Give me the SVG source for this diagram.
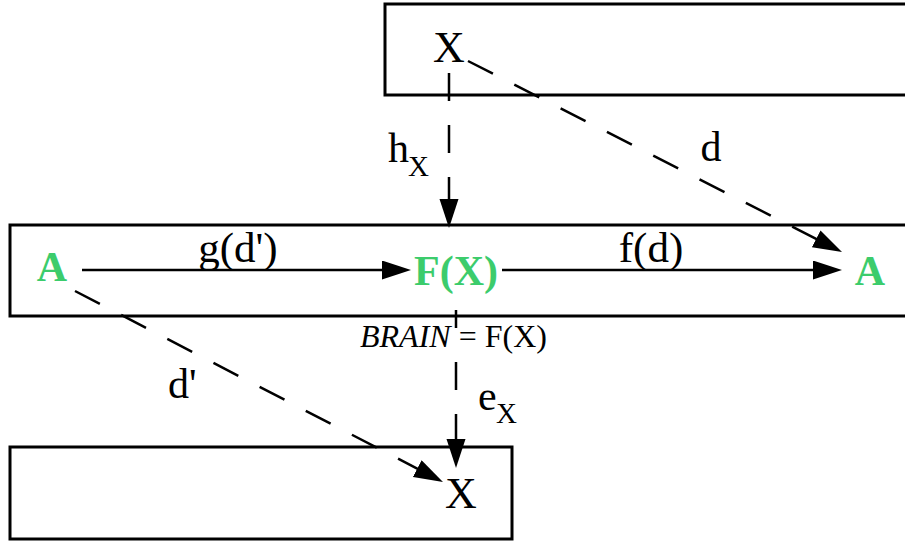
<svg xmlns="http://www.w3.org/2000/svg" width="905" height="542" viewBox="0 0 905 542">
<style>
.box{fill:none;stroke:#000;stroke-width:3}
.t{font-family:"Liberation Serif","Times New Roman",serif;fill:#000}
.g{font-family:"Liberation Serif","Times New Roman",serif;font-weight:bold;fill:#3ccc6c}
.ln{stroke:#000;stroke-width:2.5;fill:none}
.dash{stroke-dasharray:28,24}
</style>
<defs>
<marker id="ah" markerUnits="userSpaceOnUse" markerWidth="30" markerHeight="20" refX="19" refY="9.5" orient="auto">
<path d="M0,0 L29,9.5 L0,19 z" fill="#000"/>
</marker>
</defs>
<rect width="905" height="542" fill="#fff"/>
<g id="connectors">
<line class="ln" x1="82" y1="270" x2="401" y2="270" marker-end="url(#ah)"/>
<line class="ln" x1="502" y1="270" x2="832" y2="270" marker-end="url(#ah)"/>
<line class="ln dash" x1="449" y1="73" x2="449" y2="218" marker-end="url(#ah)"/>
<line class="ln dash" x1="468" y1="61" x2="833.1" y2="247.5" marker-end="url(#ah)"/>
<line class="ln dash" x1="75" y1="291" x2="434.1" y2="477.4" marker-end="url(#ah)"/>
<line class="ln dash" x1="456" y1="310" x2="456" y2="458" marker-end="url(#ah)"/>
<rect x="358" y="328" width="196" height="27" fill="#fff"/>
<text class="t" x="360" y="347" font-size="32"><tspan font-style="italic">BRAIN</tspan> = F(X)</text>
<text class="t" x="238" y="262" font-size="43" text-anchor="middle">g(d')</text>
<text class="t" x="651" y="262" font-size="43" text-anchor="middle">f(d)</text>
<text class="t" x="711" y="161" font-size="42" text-anchor="middle">d</text>
<text class="t" x="388" y="162" font-size="42">h</text>
<text class="t" x="408" y="176" font-size="29">X</text>
<text class="t" x="168" y="398" font-size="42">d'</text>
<text class="t" x="478" y="410" font-size="42">e</text>
<text class="t" x="496" y="423" font-size="29">X</text>
</g>
<g id="node-top">
<rect class="box" x="385" y="4" width="600" height="91"/>
<text class="t" x="449" y="62" font-size="44" text-anchor="middle">X</text>
</g>
<g id="node-middle">
<rect class="box" x="10" y="225" width="950" height="91"/>
<text class="g" x="52" y="281" font-size="42" text-anchor="middle">A</text>
<text class="g" x="456" y="285" font-size="42" text-anchor="middle">F(X)</text>
<text class="g" x="870" y="285" font-size="42" text-anchor="middle">A</text>
</g>
<g id="node-bottom">
<rect class="box" x="10" y="447" width="502" height="92"/>
<text class="t" x="461" y="508" font-size="44" text-anchor="middle">X</text>
</g>
</svg>
